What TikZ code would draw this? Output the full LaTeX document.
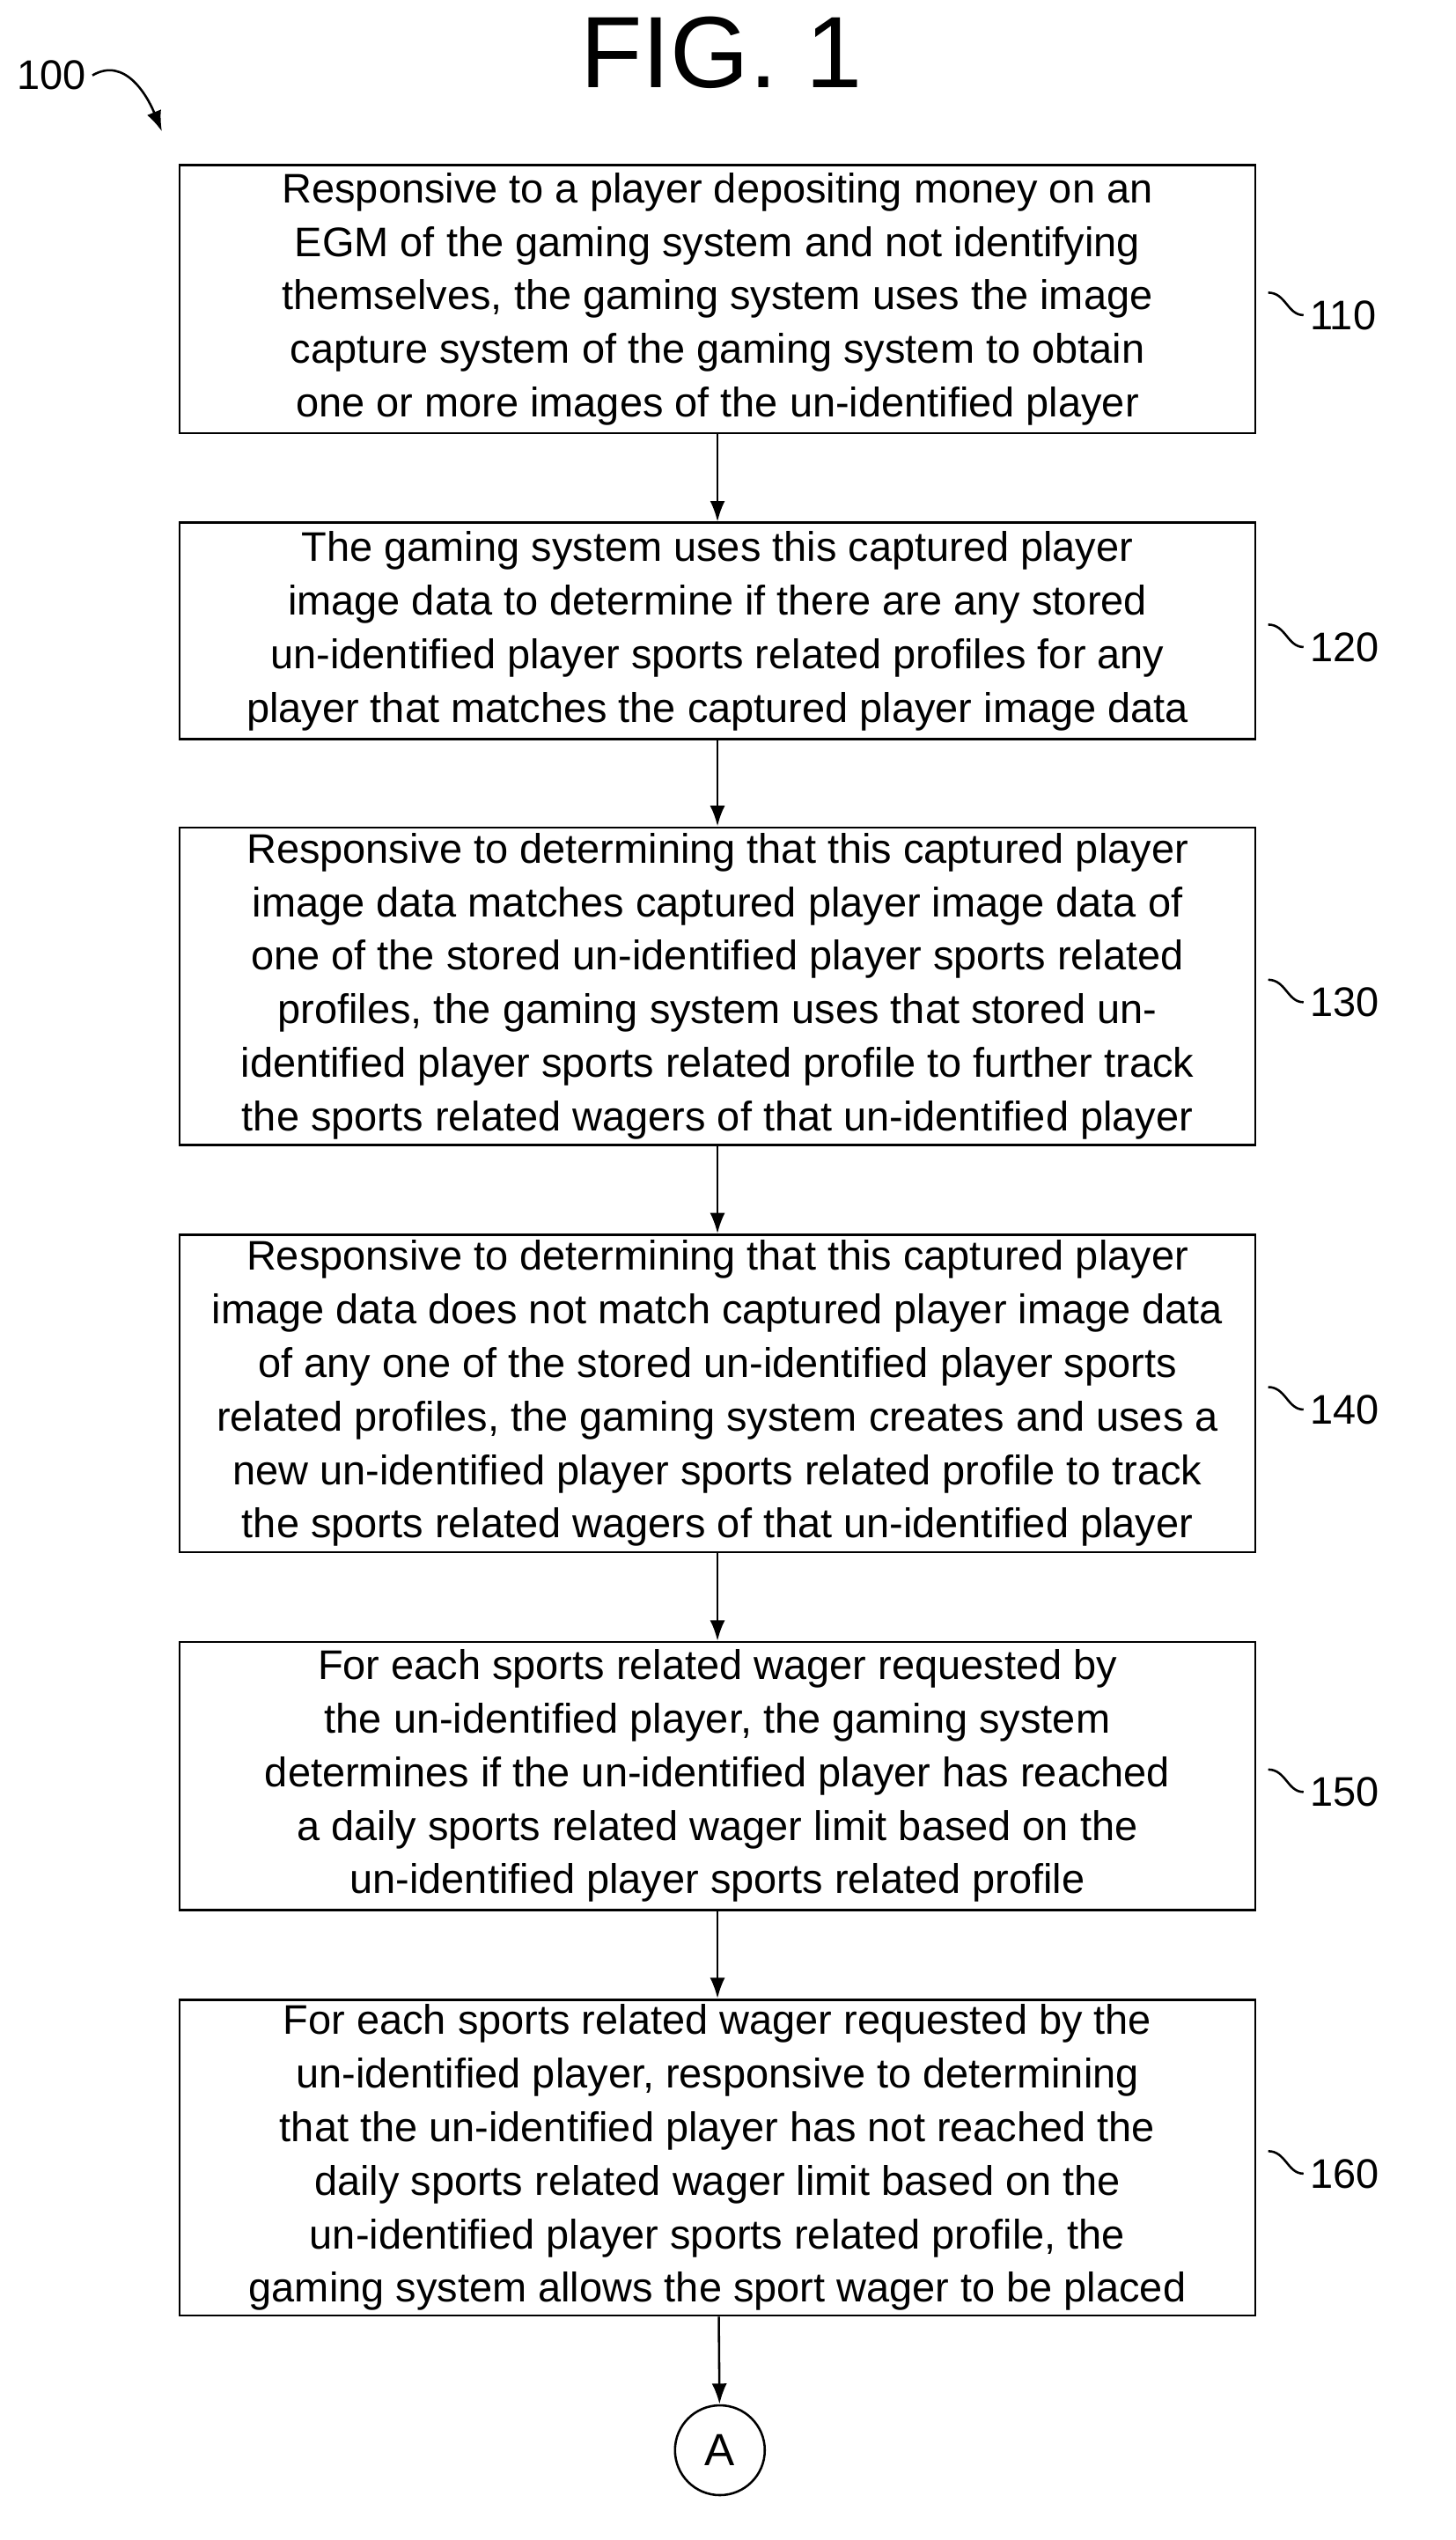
\documentclass[tikz,border=0pt]{standalone}
\usepackage{fontspec}
\setmainfont{Liberation Sans}
\usetikzlibrary{arrows.meta}
\begin{document}
\begin{tikzpicture}[x=0.03cm,y=-0.03cm,
  box/.style={draw,line width=1.2pt,minimum width=20.13cm,inner sep=0pt,align=center,font=\fontsize{22}{28.5}\selectfont},
  lab/.style={font=\fontsize{22}{26}\selectfont,anchor=west},
  arr/.style={-{Latex[length=11pt,width=8pt]},line width=1.2pt}]
\useasboundingbox (0,0) rectangle (908,1584);
\node[font=\fontsize{54}{60}\selectfont] (title) at (450,33) {FIG. 1};
\node[lab,anchor=center] (n100) at (32,47) {100};
\coordinate (a100) at (101,82);
\draw[arr] (n100.east) .. controls (78,35) and (92,60) .. (a100);
\node[box,minimum height=5.01cm] (b110) at (447.5,186.5) {Responsive to a player depositing money on an\\EGM of the gaming system and not identifying\\themselves, the gaming system uses the image\\capture system of the gaming system to obtain\\one or more images of the un-identified player};
\node[box,minimum height=4.05cm] (b120) at (447.5,393.5) {The gaming system uses this captured player\\image data to determine if there are any stored\\un-identified player sports related profiles for any\\player that matches the captured player image data};
\node[box,minimum height=5.94cm] (b130) at (447.5,615) {Responsive to determining that this captured player\\image data matches captured player image data of\\one of the stored un-identified player sports related\\profiles, the gaming system uses that stored un-\\identified player sports related profile to further track\\the sports related wagers of that un-identified player};
\node[box,minimum height=5.94cm] (b140) at (447.5,869) {Responsive to determining that this captured player\\image data does not match captured player image data\\of any one of the stored un-identified player sports\\related profiles, the gaming system creates and uses a\\new un-identified player sports related profile to track\\the sports related wagers of that un-identified player};
\node[box,minimum height=5.01cm] (b150) at (447.5,1107.5) {For each sports related wager requested by\\the un-identified player, the gaming system\\determines if the un-identified player has reached\\a daily sports related wager limit based on the\\un-identified player sports related profile};
\node[box,minimum height=5.91cm] (b160) at (447.5,1345.5) {For each sports related wager requested by the\\un-identified player, responsive to determining\\that the un-identified player has not reached the\\daily sports related wager limit based on the\\un-identified player sports related profile, the\\gaming system allows the sport wager to be placed};
\node[draw,circle,line width=1.2pt,minimum size=1.68cm,inner sep=0pt,font=\fontsize{24}{28}\selectfont] (A) at (449,1528) {A};
\draw[arr] (b110) -- (b120);
\draw[arr] (b120) -- (b130);
\draw[arr] (b130) -- (b140);
\draw[arr] (b140) -- (b150);
\draw[arr] (b150) -- (b160);
\draw[arr] (b160) -- (A);
\foreach \b/\t/\y in {b110/110/186.5,b120/120/393.5,b130/130/615,b140/140/869,b150/150/1107.5,b160/160/1345.5}{
  \node[lab] (l\t) at (813,\y+10) {\t};
  \draw[line width=1.2pt] (791,\y-4) .. controls (802,\y-4) and (803,\y+10) .. (l\t.west);
}
\end{tikzpicture}
\end{document}
